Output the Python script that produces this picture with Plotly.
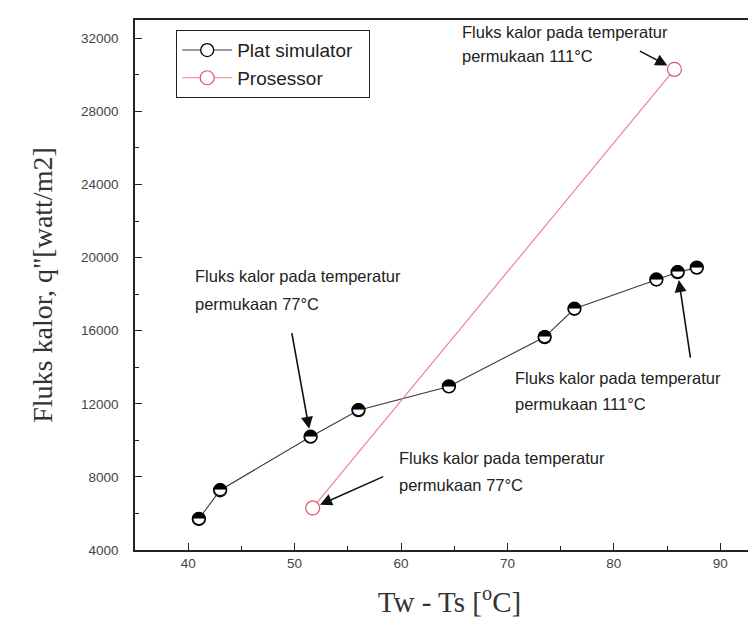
import plotly.graph_objects as go

# ---- data ----
plat_x = [41.0, 43.0, 51.5, 56.0, 64.5, 73.5, 76.3, 84.0, 86.0, 87.8]
plat_y = [5700, 7270, 10200, 11650, 12950, 15650, 17200, 18800, 19200, 19450]
proc_x = [51.7, 85.7]
proc_y = [6300, 30300]
x_ticks = [40, 50, 60, 70, 80, 90]
y_ticks = [4000, 8000, 12000, 16000, 20000, 24000, 28000, 32000]
y_tick_text = [str(v) for v in y_ticks]

W, H = 756, 636
L, R, T, B = 127, 0, 12, 94
PW, PH = W - L - R, H - T - B

def px(xp):
    return (xp - L) / PW

def py(yp):
    return (H - B - yp) / PH

fig = go.Figure()

fig.add_trace(go.Scatter(
    x=plat_x, y=plat_y, mode="lines+markers", name="Plat simulator\u00a0\u00a0",
    line=dict(color="#3a3a3a", width=1.1),
    marker=dict(symbol="circle", size=13, color="white",
                line=dict(color="black", width=1.3)),
))
fig.add_trace(go.Scatter(
    x=plat_x, y=plat_y, mode="text", text=["◓"] * len(plat_x),
    textfont=dict(family="DejaVu Sans", size=17, color="black"),
    textposition="middle center", showlegend=False, hoverinfo="skip",
))
fig.add_trace(go.Scatter(
    x=proc_x, y=proc_y, mode="lines+markers", name="Prosessor",
    line=dict(color="#ee7b86", width=1.1),
    marker=dict(symbol="circle", size=14, color="white",
                line=dict(color="#e0556a", width=1.2)),
))

font_ann = dict(family="Liberation Sans", size=16.5, color="#222")
texts = [
    (452, 24, "Fluks kalor pada temperatur"), (452, 48, "permukaan 111°C"),
    (185, 268, "Fluks kalor pada temperatur"), (185, 296, "permukaan 77°C"),
    (505, 370, "Fluks kalor pada temperatur"), (505, 396, "permukaan 111°C"),
    (389, 450, "Fluks kalor pada temperatur"), (389, 477, "permukaan 77°C"),
]
anns = []
for xx, yy, t in texts:
    anns.append(dict(x=px(xx), y=py(yy), xref="paper", yref="paper", text=t,
                     showarrow=False, xanchor="left", yanchor="middle", font=font_ann))

arrows = [
    (proc_x[1], proc_y[1], -36, -19),
    (plat_x[2], plat_y[2], -19, -105),
    (plat_x[8], plat_y[8], 13, 87),
    (proc_x[0], proc_y[0], 72, -32),
]
for xx, yy, ax, ay in arrows:
    anns.append(dict(x=xx, y=yy, xref="x", yref="y", ax=ax, ay=ay, text="",
                     showarrow=True, arrowhead=2, arrowsize=1.5, arrowwidth=1.6,
                     arrowcolor="#111", standoff=8))

tickfont = dict(family="Liberation Sans", size=13.5, color="#444")
fig.update_layout(
    width=W, height=H,
    margin=dict(l=L, r=R, t=T, b=B),
    paper_bgcolor="white", plot_bgcolor="white",
    showlegend=True,
    legend=dict(x=px(168), y=py(22), xanchor="left", yanchor="top",
                bordercolor="#222", borderwidth=1.2, bgcolor="white",
                font=dict(family="Liberation Sans", size=19, color="#222"),
                tracegroupgap=0, itemwidth=50),
    annotations=anns,
    xaxis=dict(range=[35, 35 + PW / 10.64], tickvals=x_ticks,
               ticks="inside", ticklen=7, tickwidth=1.3, tickcolor="#222",
               showline=True, linecolor="#222", linewidth=1.5, mirror=True,
               showgrid=False, zeroline=False, tickfont=tickfont,
               ticklabelstandoff=0,
               minor=dict(dtick=5, tick0=35, ticks="inside", ticklen=4, tickcolor="#222"),
               title=dict(text="Tw - Ts [<sup>o</sup>C]", standoff=22,
                          font=dict(family="Liberation Serif", size=29, color="#333"))),
    yaxis=dict(range=[4000, 33000], tickvals=y_ticks, ticktext=y_tick_text,
               ticks="inside", ticklen=7, tickwidth=1.3, tickcolor="#222",
               showline=True, linecolor="#222", linewidth=1.5, mirror=False,
               showgrid=False, zeroline=False, tickfont=tickfont,
               ticklabelstandoff=12,
               minor=dict(dtick=2000, tick0=4000, ticks="inside", ticklen=4, tickcolor="#222"),
               title=dict(text="Fluks kalor, q\"[watt/m2]", standoff=20,
                          font=dict(family="Liberation Serif", size=28, color="#333"))),
)

fig.write_html("out.html")
